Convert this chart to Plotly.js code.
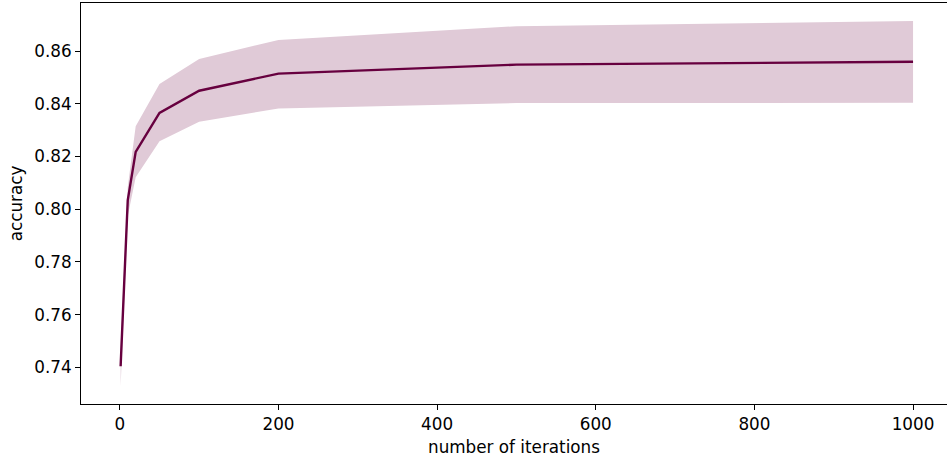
<!DOCTYPE html>
<html>
<head>
<meta charset="utf-8">
<script src="https://cdn.plot.ly/plotly-3.0.1.min.js"></script>
<style>html,body{margin:0;padding:0;background:#fff;}#chart{width:947px;height:460px;}</style>
</head>
<body>
<div id="chart"></div>
<script>
const iterations = [1, 10, 20, 50, 100, 200, 500, 1000];
const accuracyMean = [0.7404, 0.8035, 0.8218, 0.8366, 0.8450, 0.8515, 0.8549, 0.8560];
const accuracyUpper = [0.7480, 0.8085, 0.8315, 0.8476, 0.8570, 0.8643, 0.8695, 0.8715];
const accuracyLower = [0.7328, 0.7975, 0.8122, 0.8258, 0.8332, 0.8383, 0.8403, 0.8404];
const xTicks = [0, 200, 400, 600, 800, 1000];
const yTicks = [0.74, 0.76, 0.78, 0.80, 0.82, 0.84, 0.86];

const lineColor = '#67003f';
const bandColor = '#e0cad7';
const font = {family: 'DejaVu Sans, sans-serif', size: 16.8, color: '#000'};

const traces = [
  {x: iterations, y: accuracyLower, mode: 'lines', line: {width: 0, color: bandColor}, hoverinfo: 'skip', showlegend: false},
  {x: iterations, y: accuracyUpper, mode: 'lines', fill: 'tonexty', fillcolor: bandColor, line: {width: 0, color: bandColor}, hoverinfo: 'skip', showlegend: false},
  {x: iterations, y: accuracyMean, mode: 'lines', line: {width: 2.4, color: lineColor}, showlegend: false}
];

const layout = {
  width: 947, height: 460,
  margin: {l: 81, r: 0, t: 3, b: 56, pad: 0},
  paper_bgcolor: '#fff', plot_bgcolor: '#fff',
  font: font,
  xaxis: {
    range: [-48.95, 1042.8], tickvals: xTicks, ticktext: xTicks.map(String),
    showgrid: false, zeroline: false, showline: true, mirror: true, linecolor: '#000', linewidth: 1,
    ticks: 'outside', ticklen: 5, tickwidth: 1, tickcolor: '#000', tickfont: font,
    title: {text: 'number of iterations', font: font, standoff: 8}
  },
  yaxis: {
    range: [0.7261, 0.8783], tickvals: yTicks, ticktext: yTicks.map(v => v.toFixed(2)),
    showgrid: false, zeroline: false, showline: true, mirror: false, linecolor: '#000', linewidth: 1,
    ticks: 'outside', ticklen: 5, tickwidth: 1, tickcolor: '#000', tickfont: font,
    title: {text: 'accuracy', font: font, standoff: 7}
  }
};

Plotly.newPlot('chart', traces, layout, {staticPlot: true, displayModeBar: false});
</script>
</body>
</html>
